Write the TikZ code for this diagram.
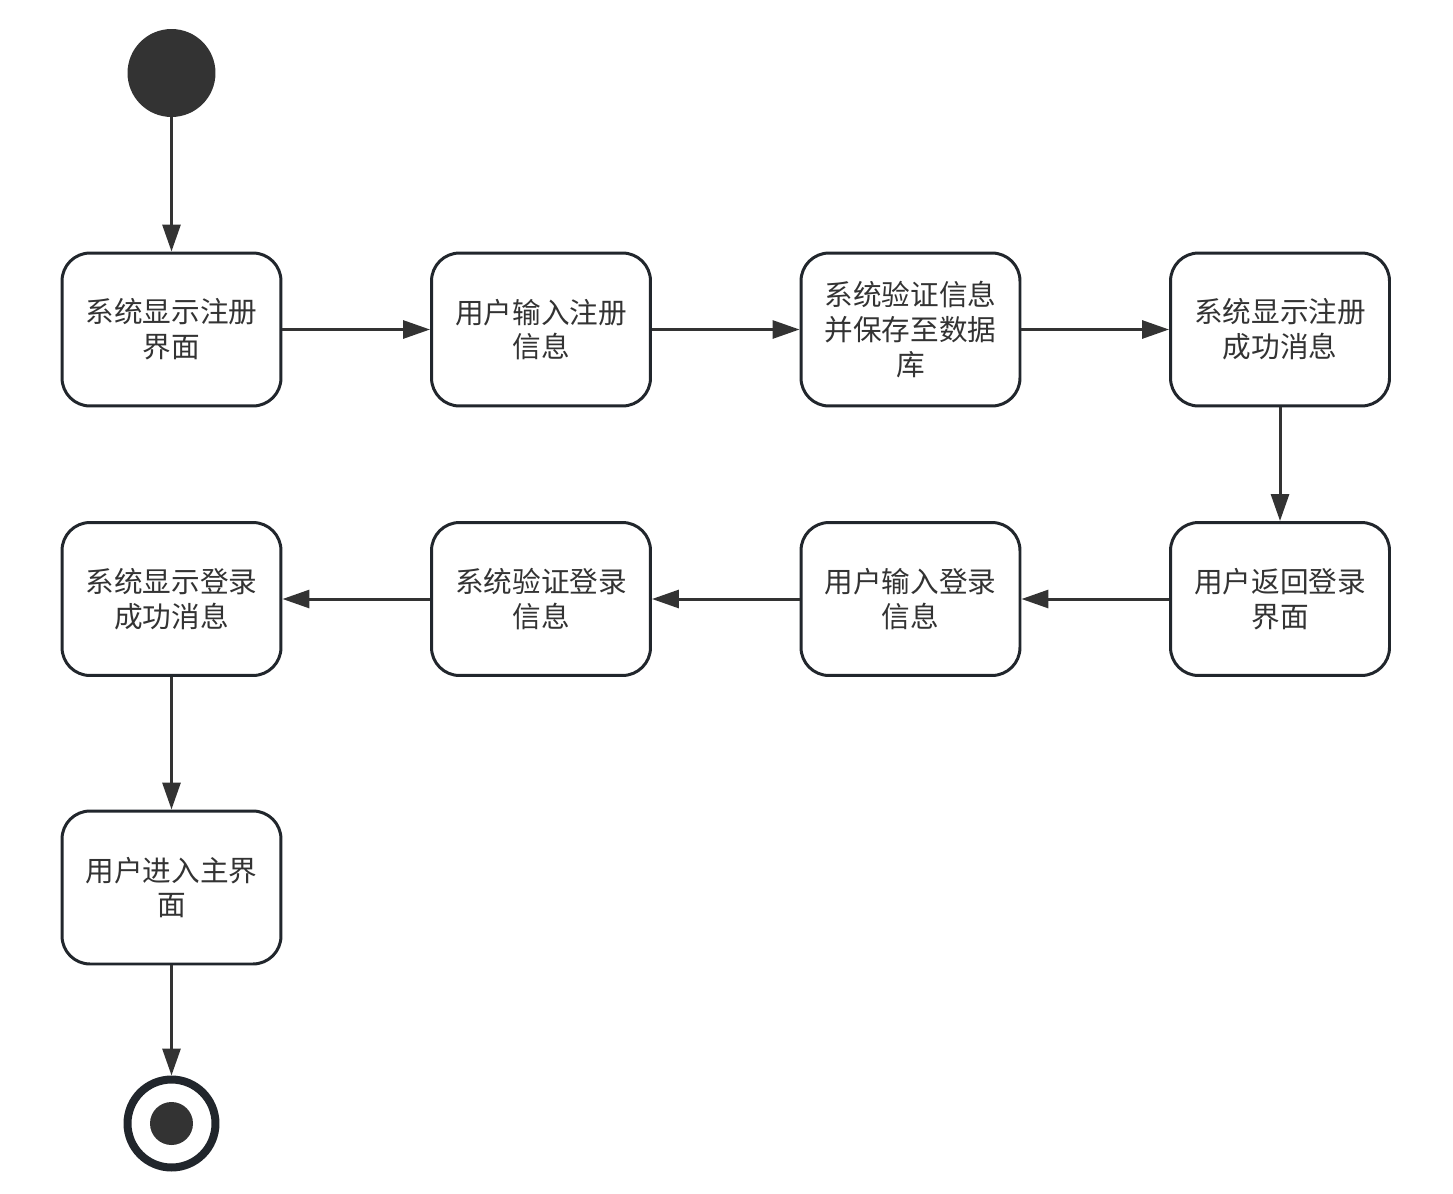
\documentclass[tikz,border=0pt]{standalone}
\usepackage{fontspec}
\newfontfamily\cjk{Noto Sans CJK SC}
\usetikzlibrary{arrows.meta,positioning}
\definecolor{ink}{RGB}{51,51,51}
\definecolor{edge}{RGB}{33,38,44}

\begin{document}
\begin{tikzpicture}[x=0.02cm, y=-0.02cm, every node/.style={font=\cjk\fontsize{16.3}{19.8}\selectfont}]
\tikzset{
    actbox/.style={draw=edge, line width=1.7pt, fill=white, rounded corners=0.56cm, minimum width=4.38cm, minimum height=3.06cm, align=center, inner sep=0pt, text=ink},
    startdot/.style={circle, fill=ink, minimum size=1.76cm, inner sep=0pt},
    endring/.style={circle, draw=edge, line width=0.16cm, minimum size=1.76cm, inner sep=0pt},
    enddot/.style={circle, fill=ink, minimum size=0.86cm, inner sep=0pt},
    flow/.style={draw=ink, line width=1.7pt, -{Triangle[length=0.54cm, width=0.36cm]}}
}
\useasboundingbox[fill=white] (0,0) rectangle (1453,1193);

% Start
\node[startdot] (start) at (171.5,73) {};

% Row 1: registration
\node[actbox] (regShow) at (171.5,329.5) {系统显示注册\\界面};
\node[actbox] (regInput) at (541,329.5) {用户输入注册\\信息};
\node[actbox] (regCheck) at (910.5,329.5) {系统验证信息\\并保存至数据\\库};
\node[actbox] (regDone) at (1280,329.5) {系统显示注册\\成功消息};

% Row 2: login, right to left
\node[actbox] (backLogin) at (1280,599) {用户返回登录\\界面};
\node[actbox] (loginInput) at (910.5,599) {用户输入登录\\信息};
\node[actbox] (loginCheck) at (541,599) {系统验证登录\\信息};
\node[actbox] (loginDone) at (171.5,599) {系统显示登录\\成功消息};

% Row 3 and end
\node[actbox] (mainView) at (171.5,887.5) {用户进入主界\\面};
\node[endring] (stop) at (171.5,1123.5) {};
\node[enddot] (stopCore) at (stop) {};

% Flow
\draw[flow] (start) -- (regShow);
\draw[flow] (regShow) -- (regInput);
\draw[flow] (regInput) -- (regCheck);
\draw[flow] (regCheck) -- (regDone);
\draw[flow] (regDone) -- (backLogin);
\draw[flow] (backLogin) -- (loginInput);
\draw[flow] (loginInput) -- (loginCheck);
\draw[flow] (loginCheck) -- (loginDone);
\draw[flow] (loginDone) -- (mainView);
\draw[flow] (mainView) -- (stop);

\end{tikzpicture}
\end{document}
